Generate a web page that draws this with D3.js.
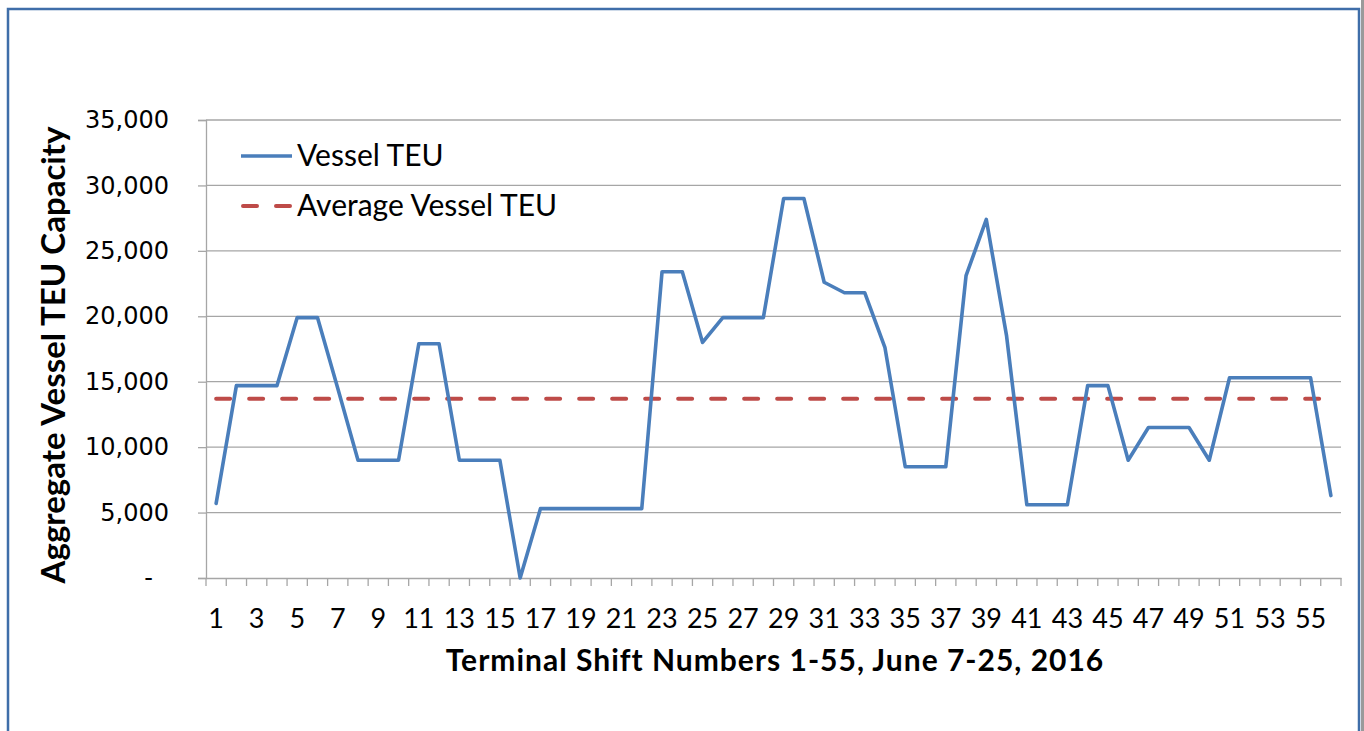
<!DOCTYPE html>
<html>
<head>
    <meta charset="utf-8">
    <title>Vessel TEU</title>
    <script src="https://d3js.org/d3.v7.min.js"></script>
    <style>
        body { margin: 0; background: #fff; }
        text { font-family: "Lato", "Open Sans", sans-serif; fill: #000; }
    </style>
</head>
<body>
    <script>
        // shift numbers 1..56 (labels shown on odd ones)
        var shifts = d3.range(1, 57);
        var vesselTEU = [5700, 14700, 14700, 14700, 19900, 19900, 14500, 9000, 9000, 9000,
                         17900, 17900, 9000, 9000, 9000, 0, 5300, 5300, 5300, 5300,
                         5300, 5300, 23400, 23400, 18000, 19900, 19900, 19900, 29000, 29000,
                         22600, 21800, 21800, 17600, 8500, 8500, 8500, 23100, 27400, 18500,
                         5600, 5600, 5600, 14700, 14700, 9000, 11500, 11500, 11500, 9000,
                         15300, 15300, 15300, 15300, 15300, 6300];
        var averageTEU = 13700;
        var yTicks = [0, 5000, 10000, 15000, 20000, 25000, 30000, 35000];
        var seriesNames = ["Vessel TEU", "Average Vessel TEU"];

        var width = 1364;
        var height = 731;
        var blue = "#4a7ebb";
        var red = "#be4b48";
        var grid = "#a6a6a6";

        var svg = d3.select("body").append("svg")
            .attr("width", width)
            .attr("height", height);

        // outer frame
        svg.append("rect")
            .attr("x", 1361).attr("y", 0).attr("width", 3).attr("height", height)
            .attr("fill", "#9a9a9a");
        svg.append("rect")
            .attr("x", 8).attr("y", 9)
            .attr("width", 1351).attr("height", 740)
            .attr("fill", "none")
            .attr("stroke", "#3f6ea9")
            .attr("stroke-width", 2.5);

        var x = d3.scaleBand()
            .domain(shifts)
            .range([206, 1341])
            .padding(0);

        var y = d3.scaleLinear()
            .domain([0, 35000])
            .range([578, 120]);

        function cx(d) { return x(d) + x.bandwidth() / 2; }

        // gridlines
        svg.append("g").selectAll("line")
            .data(yTicks.slice(1))
            .enter().append("line")
            .attr("x1", 206).attr("x2", 1341)
            .attr("y1", function(d) { return y(d); })
            .attr("y2", function(d) { return y(d); })
            .attr("stroke", grid)
            .attr("stroke-width", 1.3);

        // y axis
        var yAxis = svg.append("g")
            .attr("transform", "translate(206,0)")
            .call(d3.axisLeft(y)
                .tickValues(yTicks)
                .tickSize(8)
                .tickPadding(29)
                .tickFormat(function(d) { return d === 0 ? "-" : d3.format(",")(d); }));
        yAxis.select(".domain").attr("stroke", grid).attr("stroke-width", 1.3);
        yAxis.selectAll(".tick line").attr("stroke", grid).attr("stroke-width", 1.3);
        yAxis.selectAll(".tick text")
            .style("font-family", "'DejaVu Sans', Verdana, sans-serif")
            .style("font-size", "24px")
            .attr("fill", "#000")
            .attr("dx", function(d) { return d === 0 ? -16 : 0; });

        // x axis: labels on odd shifts, tick marks at category boundaries
        var xAxis = svg.append("g")
            .attr("transform", "translate(0,578)")
            .call(d3.axisBottom(x)
                .tickValues(shifts.filter(function(d) { return d % 2 === 1; }))
                .tickSize(0));
        xAxis.select(".domain").attr("stroke", grid).attr("stroke-width", 1.3);
        xAxis.selectAll(".tick text")
            .style("font-family", "Lato, sans-serif")
            .style("font-size", "27px")
            .attr("fill", "#000")
            .attr("y", 50)
            .attr("dy", 0);
        xAxis.selectAll(".bound")
            .data(shifts.concat([null]))
            .enter().append("line")
            .attr("class", "bound")
            .attr("x1", function(d) { return d === null ? 1341 : x(d); })
            .attr("x2", function(d) { return d === null ? 1341 : x(d); })
            .attr("y1", 0).attr("y2", 8)
            .attr("stroke", grid)
            .attr("stroke-width", 1.3);

        // average line
        svg.append("line")
            .attr("x1", cx(shifts[0]))
            .attr("x2", cx(shifts[shifts.length - 1]))
            .attr("y1", y(averageTEU))
            .attr("y2", y(averageTEU))
            .attr("stroke", red)
            .attr("stroke-width", 4)
            .attr("stroke-linecap", "round")
            .attr("stroke-dasharray", "14,19");

        // vessel line
        var line = d3.line()
            .x(function(d, i) { return cx(shifts[i]); })
            .y(function(d) { return y(d); });
        svg.append("path")
            .datum(vesselTEU)
            .attr("d", line)
            .attr("fill", "none")
            .attr("stroke", blue)
            .attr("stroke-width", 3.6)
            .attr("stroke-linejoin", "round")
            .attr("stroke-linecap", "round");

        // legend
        var legend = svg.append("g");
        legend.append("line")
            .attr("x1", 241).attr("x2", 292).attr("y1", 156).attr("y2", 156)
            .attr("stroke", blue).attr("stroke-width", 3.6);
        legend.append("line")
            .attr("x1", 243).attr("x2", 292).attr("y1", 206).attr("y2", 206)
            .attr("stroke", red).attr("stroke-width", 4)
            .attr("stroke-linecap", "round")
            .attr("stroke-dasharray", "14,19");
        legend.selectAll("text.leg")
            .data(seriesNames)
            .enter().append("text")
            .attr("class", "leg")
            .attr("x", 297)
            .attr("y", function(d, i) { return 166 + i * 50; })
            .style("font-size", "30px")
            .text(function(d) { return d; });

        // axis titles
        svg.append("text")
            .attr("x", 775).attr("y", 671)
            .attr("text-anchor", "middle")
            .style("font-size", "30px")
            .style("font-weight", "bold")
            .style("letter-spacing", "1px")
            .text("Terminal Shift Numbers 1-55, June 7-25, 2016");
        svg.append("text")
            .attr("transform", "translate(65,355) rotate(-90)")
            .attr("text-anchor", "middle")
            .style("font-size", "33px")
            .style("font-weight", "bold")
            .text("Aggregate Vessel TEU Capacity");
    </script>
</body>
</html>
